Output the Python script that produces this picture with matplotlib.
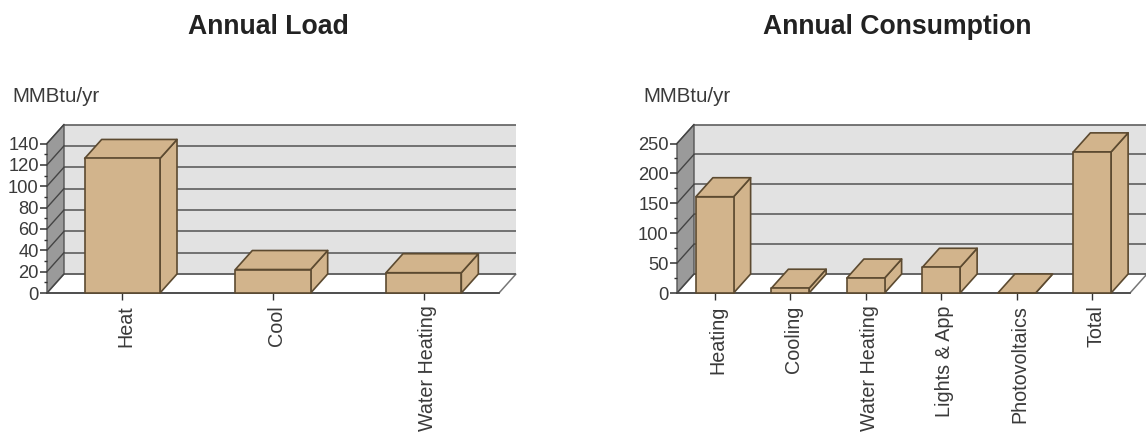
import matplotlib
matplotlib.use("Agg")
import matplotlib.pyplot as plt
from matplotlib.patches import Polygon
from matplotlib.ticker import MultipleLocator
from matplotlib.transforms import ScaledTranslation

plt.rcParams['font.family'] = ['Liberation Sans', 'DejaVu Sans']

load_categories = ["Heat", "Cool", "Water Heating"]
load_values = [126, 22, 19]
load_ticks = [0, 20, 40, 60, 80, 100, 120, 140]

use_categories = ["Heating", "Cooling", "Water Heating", "Lights & App", "Photovoltaics", "Total"]
use_values = [161, 8, 25, 43, 0, 236]
use_ticks = [0, 50, 100, 150, 200, 250]

W, H = 1146, 436
DEPTH_X, DEPTH_Y = 17, 19      # oblique depth of the box, in pixels
TAN = "#d2b48c"
EDGE = "#5c4a30"
TEXT = "#3a3a3a"
GRID = "#5f5f5f"


def chart(left, right, top, bottom, cats, vals, ticks, minor, title, title_x, unit_x):
    ax = fig.add_axes([left / W, 1 - bottom / H, (right - left) / W, (bottom - top) / H])
    ax.set_xlim(-0.5, len(cats) - 0.5)
    ax.set_ylim(0, ticks[-1])
    ax.patch.set_visible(False)
    for s in ax.spines.values():
        s.set_visible(False)

    # depth vector converted from pixels to data units
    dx = DEPTH_X * len(cats) / (right - left)
    dy = DEPTH_Y * ticks[-1] / (bottom - top)
    x0, x1 = -0.5, len(cats) - 0.5
    ymax = ticks[-1]

    def poly(pts, **kw):
        ax.add_patch(Polygon(pts, closed=True, clip_on=False, **kw))

    # back wall, side wall and floor
    poly([(x0 + dx, dy), (x1 + dx, dy), (x1 + dx, ymax + dy), (x0 + dx, ymax + dy)],
         facecolor="#e2e2e2", edgecolor="none", zorder=1)
    poly([(x0, 0), (x0 + dx, dy), (x0 + dx, ymax + dy), (x0, ymax)],
         facecolor="#9a9a9a", edgecolor="#555555", lw=1, zorder=1)
    poly([(x0, 0), (x1, 0), (x1 + dx, dy), (x0 + dx, dy)],
         facecolor="white", edgecolor="#777777", lw=1.1, zorder=1)

    # gridlines run along the back wall and down the side wall
    for t in ticks:
        ax.plot([x0 + dx, x1 + dx], [t + dy, t + dy], color=GRID, lw=1.2,
                clip_on=False, zorder=2, solid_capstyle="butt")
        ax.plot([x0, x0 + dx], [t, t + dy], color="#444444", lw=1.0,
                clip_on=False, zorder=2)
    ax.plot([x0, x1], [0, 0], color="#444444", lw=1.2, clip_on=False, zorder=2)

    # three visible faces of each box
    bw = 0.25
    for i, v in enumerate(vals):
        a, b = i - bw, i + bw
        style = dict(facecolor=TAN, edgecolor=EDGE, lw=1.2, joinstyle="round")
        poly([(b, 0), (b + dx, dy), (b + dx, v + dy), (b, v)], zorder=3, **style)
        poly([(a, v), (b, v), (b + dx, v + dy), (a + dx, v + dy)], zorder=3, **style)
        poly([(a, 0), (b, 0), (b, v), (a, v)], zorder=3, **style)

    ax.set_yticks(ticks)
    ax.yaxis.set_minor_locator(MultipleLocator(minor))
    ax.tick_params(axis="y", which="major", length=5, width=1.1, color="#333333",
                   labelsize=13.2, labelcolor=TEXT, pad=1)
    ax.tick_params(axis="y", which="minor", length=2.5, width=1, color="#333333")
    ax.set_xticks(range(len(cats)))
    ax.set_xticklabels(cats, rotation=90)
    ax.tick_params(axis="x", length=5, width=1, color="#333333",
                   labelsize=14.2, labelcolor=TEXT, pad=4)
    # nudge the rotated labels slightly right of their ticks
    nudge = ScaledTranslation(3.5 / 100, 0, fig.dpi_scale_trans)
    for lab in ax.get_xticklabels():
        lab.set_transform(lab.get_transform() + nudge)

    fig.text(title_x / W, 1 - 27 / H, title, ha="center", va="center",
             fontsize=19.2, fontweight="bold", color="#222222")
    fig.text((unit_x - 1) / W, 1 - 97 / H, "MMBtu/yr", ha="left", va="center",
             fontsize=14.8, color=TEXT)


fig = plt.figure(figsize=(W / 100, H / 100), dpi=100, facecolor="white")
chart(47, 499, 143.5, 293, load_categories, load_values, load_ticks, 10,
      "Annual Load", 268, 13)
chart(677, 1130, 143.5, 293, use_categories, use_values, use_ticks, 25,
      "Annual Consumption", 897, 644)
fig.savefig("out.png", dpi=100)
